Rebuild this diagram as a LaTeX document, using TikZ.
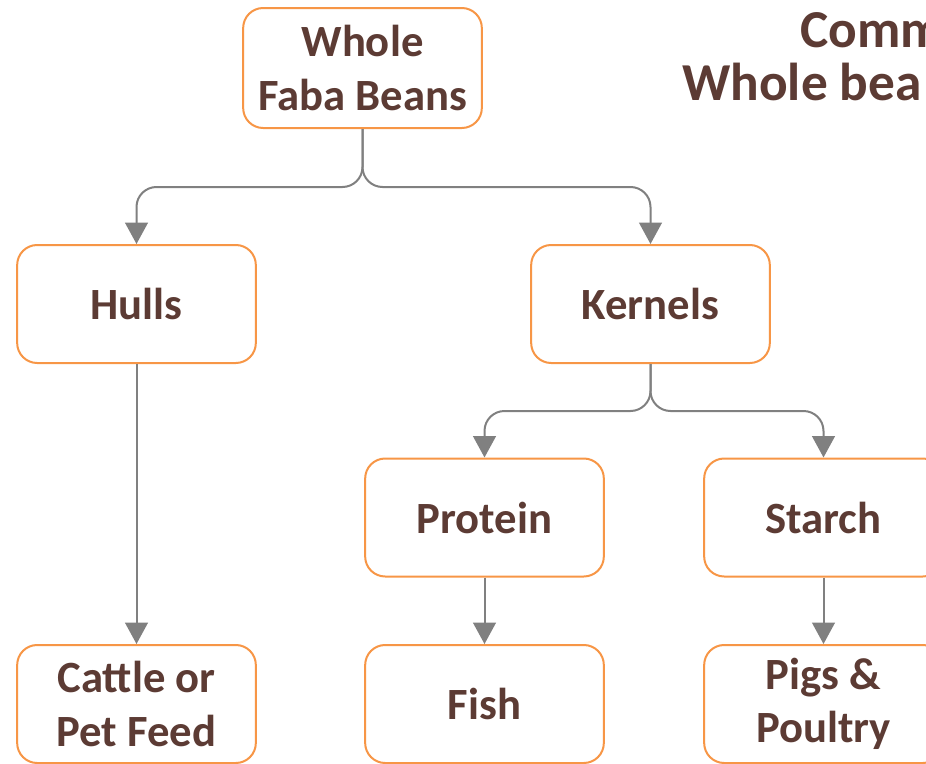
\documentclass[tikz,border=0pt]{standalone}
\usepackage{fontspec}
\setmainfont{Carlito}
\usetikzlibrary{arrows.meta}
\definecolor{boxline}{HTML}{F79646}
\definecolor{txtbrown}{HTML}{5C3B34}
\definecolor{linkgray}{HTML}{808080}

\begin{document}
\begin{tikzpicture}[x=0.75pt, y=-0.75pt,
    box/.style={draw=boxline, line width=1.5pt, rounded corners=15pt, fill=white,
        minimum width=179pt, minimum height=88.5pt, align=center,
        text=txtbrown, font=\fontsize{33.5}{40}\selectfont\bfseries},
    heading/.style={inner sep=0pt, text=txtbrown, font=\fontsize{40}{48}\selectfont\bfseries},
    link/.style={draw=linkgray, line width=1.5pt, rounded corners=15pt,
        -{Triangle[width=17pt, length=16pt]}}]
    \useasboundingbox (0,0) rectangle (926,764);
    % Title
    \node[heading, anchor=base west] (ttlA) at (800,47) {Comm};
    \node[heading, anchor=base west] (ttlB) at (682,100) {Whole bea};
    % Boxes
    \node[box, minimum height=90pt] (whole) at (362.5,68) {Whole\\Faba Beans};
    \node[box] (hulls) at (136.5,304) {Hulls};
    \node[box] (kernels) at (650.5,304) {Kernels};
    \node[box] (protein) at (484.5,517.5) {Protein};
    \node[box] (starch) at (823.5,517.5) {Starch};
    \node[box] (cattle) at (136.5,704) {Cattle or\\Pet Feed};
    \node[box] (fish) at (484.5,704) {Fish};
    \node[box] (pigs) at (823.5,704) {Pigs \&\\Poultry};
    % Splits
    \draw[link] (whole.south) -- ++(0,58) -| (hulls.north);
    \draw[link] (whole.south) -- ++(0,58) -| (kernels.north);
    \draw[link] (kernels.south) -- ++(0,47) -| (protein.north);
    \draw[link] (kernels.south) -- ++(0,47) -| (starch.north);
    % Straight arrows
    \draw[link] (hulls) -- (cattle);
    \draw[link] (protein) -- (fish);
    \draw[link] (starch) -- (pigs);
\end{tikzpicture}
\end{document}
